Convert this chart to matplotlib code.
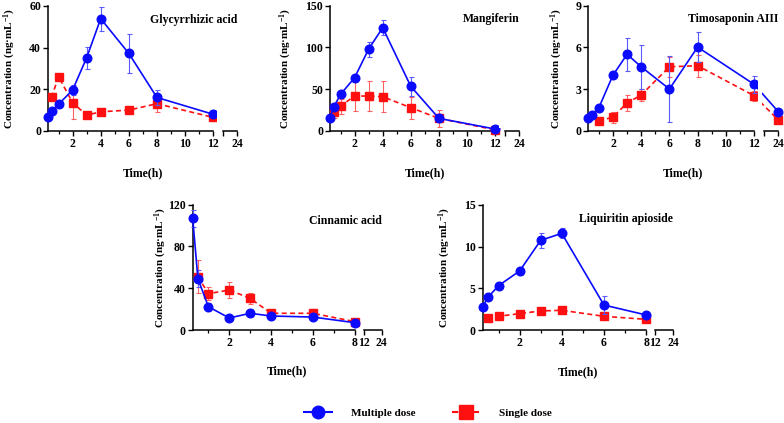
import numpy as np
import matplotlib
matplotlib.use("Agg")
import matplotlib.pyplot as plt
from matplotlib.lines import Line2D

plt.rcParams['font.family'] = ['Liberation Serif', 'DejaVu Serif']
plt.rcParams['font.weight'] = 'bold'
plt.rcParams['mathtext.fontset'] = 'custom'
plt.rcParams['mathtext.rm'] = 'Liberation Serif:bold'
plt.rcParams['mathtext.bf'] = 'Liberation Serif:bold'
plt.rcParams['mathtext.default'] = 'bf'

# ---------------- data ----------------
t_multi = [0.25, 0.5, 1, 2, 3, 4, 6, 8, 12]
t_single = [0.5, 1, 2, 3, 4, 6, 8, 12]

gly_multi = [6.4, 9.3, 12.7, 19.6, 35.1, 53.9, 37.2, 16.0, 7.9]
gly_multi_sd = [0.5, 0.8, 1.0, 2.5, 5.3, 5.8, 9.2, 3.8, 1.0]
gly_single = [16.0, 26.0, 13.5, 7.5, 9.1, 9.9, 13.0, 6.4]
gly_single_sd = [1.0, 1.5, 8.0, 1.0, 1.0, 1.0, 4.0, 1.0]

mang_multi = [15.6, 28.0, 43.6, 63.6, 98.0, 123.6, 53.2, 14.8, 2.0]
mang_multi_sd = [1.0, 2.0, 2.0, 3.0, 9.0, 9.0, 11.0, 2.0, 0.5]
mang_single = [22.0, 29.6, 41.6, 41.6, 40.8, 27.6, 14.8, 1.0]
mang_single_sd = [7.0, 9.0, 18.0, 18.0, 18.5, 13.0, 10.0, 0.5]

t_multi_timo = [0.25, 0.5, 1, 2, 3, 4, 6, 8, 12, 24]
t_single_timo = [1, 2, 3, 4, 6, 8, 12, 24]
timo_multi = [0.89, 1.13, 1.66, 4.0, 5.5, 4.6, 3.0, 6.02, 3.34, 1.37]
timo_multi_sd = [0.05, 0.1, 0.1, 0.1, 1.2, 1.6, 2.35, 1.1, 0.62, 0.15]
timo_single = [0.7, 0.98, 2.0, 2.57, 4.6, 4.68, 2.52, 0.77]
timo_single_sd = [0.1, 0.4, 0.6, 0.4, 0.7, 0.8, 0.35, 0.1]

t_multi_b = [0.25, 0.5, 1, 2, 3, 4, 6, 8]
t_single_b = [0.5, 1, 2, 3, 4, 6, 8]
cin_multi = [106.9, 49.1, 22.3, 11.5, 16.0, 13.4, 12.4, 7.0]
cin_multi_sd = [8.0, 8.0, 4.0, 1.5, 4.0, 3.0, 3.0, 1.5]
cin_single = [51.1, 34.8, 38.3, 30.3, 16.0, 16.0, 8.0]
cin_single_sd = [16.0, 6.0, 8.0, 5.0, 2.0, 4.0, 2.0]

liq_multi = [2.83, 3.94, 5.33, 7.08, 10.74, 11.58, 3.02, 1.83]
liq_multi_sd = [0.15, 0.2, 0.2, 0.5, 0.9, 0.6, 1.1, 0.2]
liq_single = [1.51, 1.67, 1.99, 2.31, 2.39, 1.67, 1.31]
liq_single_sd = [0.15, 0.2, 0.2, 0.3, 0.35, 0.2, 0.15]

titles = ["Glycyrrhizic acid", "Mangiferin", "Timosaponin AIII",
          "Cinnamic acid", "Liquiritin apioside"]
ylims = [60, 150, 9, 120, 15]
yticks = [[0, 20, 40, 60], [0, 50, 100, 150], [0, 3, 6, 9],
          [0, 40, 80, 120], [0, 5, 10, 15]]

BLUE = '#0a0aff'
RED = '#ff1010'


def make_scale(xp, fp):
    xp = np.asarray(xp, float)
    fp = np.asarray(fp, float)

    def _map(x, a, b):
        x = np.asarray(x, float)
        y = np.interp(x, a, b)
        s0 = (b[1] - b[0]) / (a[1] - a[0])
        s1 = (b[-1] - b[-2]) / (a[-1] - a[-2])
        y = np.where(x < a[0], b[0] + (x - a[0]) * s0, y)
        y = np.where(x > a[-1], b[-1] + (x - a[-1]) * s1, y)
        return y

    return (lambda x: _map(x, xp, fp)), (lambda y: _map(y, fp, xp))


fig = plt.figure(figsize=(7.84, 4.23), dpi=100)
W, H = 784.0, 423.0

# axes boxes in image pixels: left, right, top, bottom
boxes = [(48, 237.3, 6, 130.7), (330, 519.3, 5.7, 130.7), (588.3, 778.3, 5.7, 130.7),
         (192.7, 381.7, 204.7, 330), (482.7, 673.3, 204.7, 330.3)]
ylab_d = [29.5, 35.5, 23.5, 24, 30]

series = [
    (t_multi, gly_multi, gly_multi_sd, t_single, gly_single, gly_single_sd),
    (t_multi, mang_multi, mang_multi_sd, t_single, mang_single, mang_single_sd),
    (t_multi_timo, timo_multi, timo_multi_sd, t_single_timo, timo_single, timo_single_sd),
    (t_multi_b, cin_multi, cin_multi_sd, t_single_b, cin_single, cin_single_sd),
    (t_multi_b, liq_multi, liq_multi_sd, t_single_b, liq_single, liq_single_sd),
]

for i in range(5):
    l, r, t, b = boxes[i]
    ax = fig.add_axes([l / W, (H - b) / H, (r - l) / W, (b - t) / H])
    top = i < 3
    if top:
        fwd, inv = make_scale([0, 12, 24], [0, 12, 13.72])
        seg_main = (0.25, 12)
        seg2 = (17, 24)
        majors = [2, 4, 6, 8, 10, 12, 17, 24]
        mlabels = ['2', '4', '6', '8', '10', '12', '', '24']
        minors = [1, 3, 5, 7, 9, 11]
        gap = (14.0, 16.0)
    else:
        fwd, inv = make_scale([0, 8, 12, 24], [0, 8, 8.42, 9.29])
        seg_main = (0.25, 8)
        seg2 = (12, 24)
        majors = [2, 4, 6, 8, 12, 24]
        mlabels = ['2', '4', '6', '8', '12', '24']
        minors = [1, 3, 5, 7]
        gap = None
    ax.set_xscale('function', functions=(fwd, inv))
    ax.set_xlim(0.25, 24)
    ax.set_ylim(0, ylims[i])

    tm, ym, sm, ts, ys, ss = series[i]
    ax.errorbar(ts, ys, yerr=ss, color=RED, ls=(0, (3, 2)), lw=1.2,
                marker='s', ms=6, mec=RED, mfc=RED, ecolor='#ff6060',
                elinewidth=0.8, capsize=1.8, capthick=0.8, clip_on=False, zorder=3)
    ax.errorbar(tm, ym, yerr=sm, color=BLUE, ls='-', lw=1.2,
                marker='o', ms=6.2, mec=BLUE, mfc=BLUE, ecolor='#5a5aff',
                elinewidth=0.8, capsize=1.8, capthick=0.8, clip_on=False, zorder=4)
    if gap is not None:
        ax.axvspan(gap[0], gap[1], ymin=0.02, ymax=0.7, color='white', zorder=5, lw=0)

    for s in ['top', 'right']:
        ax.spines[s].set_visible(False)
    ax.spines['left'].set_linewidth(1.1)
    ax.spines['bottom'].set_linewidth(1.1)
    ax.spines['bottom'].set_bounds(*seg_main)
    ax.plot(seg2, [0, 0], transform=ax.get_xaxis_transform(), color='black',
            lw=1.1, clip_on=False, zorder=6)

    ax.set_xticks(majors)
    ax.set_xticklabels(mlabels)
    ax.set_xticks(minors, minor=True)
    ax.set_yticks(yticks[i])
    ax.tick_params(axis='both', which='major', direction='out', length=3.5,
                   width=1.0, labelsize=8.5, pad=1.5)
    ax.tick_params(axis='x', which='minor', direction='out', length=2, width=0.9)
    for lab in ax.get_xticklabels() + ax.get_yticklabels():
        lab.set_fontweight('bold')

    ax.set_xlabel('Time(h)', fontsize=8.5, fontweight='bold',
                  labelpad=13 if top else 12)
    ax.set_ylabel('Concentration (ng·mL$^{-1}$)', fontsize=8, fontweight='bold')
    ax.yaxis.set_label_coords(-ylab_d[i] / (r - l), 0.5)
    ax.text(1.0, 0.89 if i != 3 else 0.87, titles[i], transform=ax.transAxes,
            ha='right', va='center', fontsize=8.5, fontweight='bold', zorder=10)

handles = [
    Line2D([], [], color=BLUE, lw=1.5, marker='o', ms=9, mfc=BLUE, mec=BLUE),
    Line2D([], [], color=RED, lw=1.5, ls=(0, (3, 2)), marker='s', ms=10, mfc=RED, mec=RED),
]
fig.legend(handles, ['Multiple dose', 'Single dose'], loc='center',
           bbox_to_anchor=(0.546, 0.024), ncol=2, frameon=False,
           prop={'weight': 'bold', 'size': 8}, handlelength=2.5,
           handletextpad=1.7, columnspacing=3.3)

fig.savefig('out.png', dpi=100)
